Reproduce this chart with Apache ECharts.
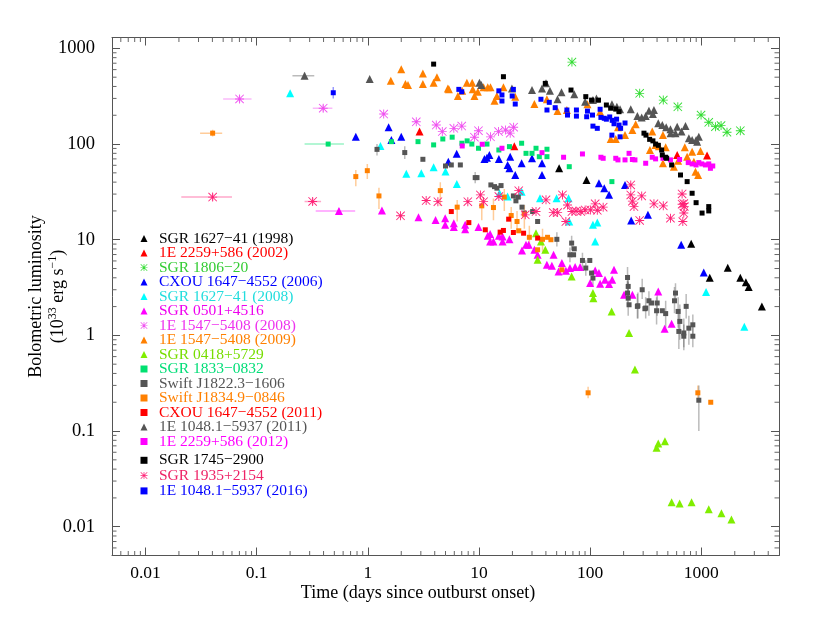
<!DOCTYPE html>
<html><head><meta charset="utf-8">
<script src="https://cdn.jsdelivr.net/npm/echarts@6/dist/echarts.min.js"></script>
<style>html,body{margin:0;padding:0;background:#fff}#c{width:814px;height:629px}</style>
</head><body><div id="c"></div>
<script>
const X_RANGE = [0.005, 5000];
const Y_RANGE = [0.005, 1300];
const xMinorTicks = [0.006,0.007,0.008,0.009,0.02,0.03,0.04,0.05,0.06,0.07,0.08,0.09,0.2,0.3,0.4,0.5,0.6,0.7,0.8,0.9,2,3,4,5,6,7,8,9,20,30,40,50,60,70,80,90,200,300,400,500,600,700,800,900,2000,3000,4000];
const yMinorTicks = [0.006,0.007,0.008,0.009,0.02,0.03,0.04,0.05,0.06,0.07,0.08,0.09,0.2,0.3,0.4,0.5,0.6,0.7,0.8,0.9,2,3,4,5,6,7,8,9,20,30,40,50,60,70,80,90,200,300,400,500,600,700,800,900];

const NAMES = ["SGR 1627−41 (1998)","1E 2259+586 (2002)","SGR 1806−20","CXOU 1647−4552 (2006)","SGR 1627−41 (2008)","SGR 0501+4516","1E 1547−5408 (2008)","1E 1547−5408 (2009)","SGR 0418+5729","SGR 1833−0832","Swift J1822.3−1606","Swift J1834.9−0846","CXOU 1647−4552 (2011)","1E 1048.1−5937 (2011)","1E 2259+586 (2012)","SGR 1745−2900","SGR 1935+2154","1E 1048.1−5937 (2016)"];

// [time (days), luminosity (1e33 erg/s)]
const sgr1627_1998 = [[52.6,56],[92.7,42],[811,9.1],[1191,4.0],[1730,5.1],[2244,4.0],[2518,3.6],[2667,3.2],[3508,2.0]];
const e2259_2002 = [[2.92,135],[20.8,95],[607,77],[1127,76]];
const sgr1806 = [[68.6,719],[279,339],[455,288],[615,245],[995,201],[1167,169],[1340,152],[1506,156],[1703,133],[2244,138]];
const cxou2006 = [[0.78,119],[1.54,150],[1.63,110],[2.0,119],[5.3,65.5],[6.3,79],[11.2,69.8],[11.8,72],[12.4,76.9],[15.1,69.8],[18.1,60.5],[19.1,73.8],[18.8,56],[21.2,47.5],[24.2,63],[30,71],[36.9,63],[36.9,47.5],[120,39],[134,34.6],[148,29.5],[206,37.4],[234,15.9],[331,18.2],[659,8.85],[1052,4.55]];
const sgr1627_2008 = [[0.2,339],[1.3,95.5],[2.22,48.8],[3.03,49.5],[3.91,57.3],[5.0,51.6],[6.32,38.3],[15.3,30.6],[18.1,28.3],[24.2,31.8],[35.4,27.2],[49.9,27.2],[64,27.2],[64.9,15.5],[106,14.3],[116,15.1],[111,9.6],[1104,2.84],[2438,1.23]];
const sgr0501 = [[0.55,20],[1.34,20.2],[2.86,17.2],[4.07,16.1],[4.97,16.8],[4.97,14.3],[5.94,14.9],[5.94,13.6],[7.52,14.3],[7.52,12.9],[9.9,13.6],[12.6,11.5],[12.6,9.6],[13.5,9.6],[12.0,11.0],[15.1,11],[16.3,10.8],[16.3,9.6],[18.8,10.1],[24.4,7.7],[26.5,8.85],[28,8.85],[31.5,7.85],[33.7,6.95],[46.9,6.95],[40.8,5.47],[45.3,5.34],[52,4.66],[55.7,5.7],[60.5,4.75],[65.8,5.06],[73.3,5.18],[81.3,5.18],[111,4.78],[120,4.48],[100,3.52],[123,3.47],[136,3.81],[158,3.81],[148,3.45],[164,4.85],[202,2.66],[240,2.66],[410,2.88],[468,1.17],[541,1.32]];
const e1547_2008 = [[0.0702,296],[0.397,237],[1.39,206],[2.73,171],[4.13,158],[4.68,135],[5.94,146],[7.0,154],[9.9,138],[9.1,118],[12.7,119],[15,135],[17.3,140],[19.1,130],[20.5,150]];
const e1547_2009 = [[1.61,459],[2.0,604],[2.18,424],[2.3,414],[3.13,548],[3.13,424],[3.91,438],[4.19,498],[5.25,382],[5.36,373],[6.46,318],[7.06,360],[7.78,438],[8.69,438],[8.79,373],[9.1,318],[9.77,352],[11,392],[12,392],[12.7,392],[13.8,284],[14.5,318],[16.6,392],[21.2,313],[31.5,262],[40.8,294],[50.9,222],[61.8,227],[94.6,260],[123,218],[178,150],[153,113],[170,113],[206,124],[240,140],[257,161],[345,86.7],[362,135],[388,98],[416,95],[452,124],[452,63],[478,92.7],[567,58],[619,67],[711,92.7],[746,73.8],[827,83],[857,65.5],[887,51.5],[936,47.5],[984,84.8]];
const sgr0418 = [[32.6,11.7],[36.1,9.6],[39.5,7.85],[33.7,6.17],[68.2,4.13],[106,2.77],[107,2.45],[156,1.78],[224,1.06],[253,0.44],[396,0.067],[410,0.074],[471,0.078],[541,0.018],[638,0.0175],[817,0.018],[1167,0.0152],[1518,0.0138],[1866,0.0119]];
const sgr1833 = [[0.44,100],[1.63,106],[2.83,106],[3.91,98],[4.73,113],[5.74,118],[7.02,102],[7.83,108],[8.63,100],[9.9,90.4],[11.8,100],[15.1,86.7],[18.8,94],[24.2,102],[26.5,80],[30,80],[32.6,90.4],[34.9,73.8],[40.9,88.3],[40.9,73.8],[64.9,58],[157,40.5]];
const swiftJ1822 = [[1.21,88],[2.15,81.5],[3.13,69.3],[5.0,59],[5.64,60.5],[6.8,60.5],[9.25,44.6],[9.6,44.6],[12.8,37.4],[13.8,35.9],[14.5,34.6],[15.8,36.8],[20.4,28.7],[22.6,27.9],[21.5,25.5],[24.4,21.9],[25.6,19],[30.4,19.7],[33.7,15.5],[50.2,10.1],[68.2,9.22],[72,8.04],[65.8,6.96],[71,6.96],[85.3,6.07],[99.3,6.07],[91.4,5.06],[106,3.97],[103,4.48],[217,4.03],[220,3.25],[217,2.77],[294,3.0],[269,2.04],[316,1.93],[220,2.45],[224,2.09],[266,2.01],[311,1.9],[338,2.3],[357,2.18],[401,2.18],[396,1.81],[446,1.81],[478,1.69],[586,2.77],[574,2.3],[619,1.78],[641,1.4],[628,1.1],[696,1.06],[696,0.98],[731,2.01],[773,1.19],[839,1.29],[839,0.98],[950,0.21]];
const swiftJ1834 = [[0.0402,130],[0.78,45.7],[0.99,52.7],[1.26,28.7],[4.49,32.6],[6.37,21.9],[10.6,22.6],[13.5,21.7],[16.9,27.9],[19.5,17.9],[22,15.5],[22.8,12.4],[25.6,18.5],[28.4,10.6],[37.3,10.1],[41.4,10.6],[44.4,10],[33.7,7.85],[55.7,4.85],[95.9,0.251],[931,0.251],[1216,0.2]];
const cxou2011 = [[5.64,19.7],[8.11,15.1],[11.4,12.7],[15.5,12],[16.6,12.5],[18.5,16.4],[20.4,11.9],[25.2,11.7],[33.7,10.4]];
const e1048_2011 = [[0.27,518],[1.04,479],[10.1,438],[10.5,414],[19.8,382],[30,367],[36.9,382],[40.1,431],[43.5,360],[50.9,294],[55.3,347],[72,331],[90.2,277],[106,288],[114,300],[157,260],[174,245],[186,231],[232,231],[266,196],[291,190],[316,196],[338,223],[375,227],[367,206],[410,165],[446,158],[483,150],[528,143],[529,130],[586,130],[607,152],[664,135],[721,154],[773,115],[827,110],[898,110],[950,119],[917,106]];
const e2259_2012 = [[7.07,95.5],[10.7,99.5],[16.1,90.4],[36.9,81.3],[57.7,72.8],[85.3,78.8],[125,72.8],[131,71],[170,71],[178,68.3],[224,80],[206,68.3],[240,69],[253,68.3],[316,63],[362,72.8],[388,70],[452,71],[528,68.3],[638,69],[763,64],[827,62],[898,60.5],[950,64],[1010,62],[1089,60.5],[1167,62],[1208,55.8],[1268,59]];
const sgr1745 = [[3.91,685],[16.6,506],[39.5,431],[67.3,367],[91.4,313],[103,288],[119,288],[140,256],[153,237],[170,232],[182,218],[305,130],[318,124],[343,112],[367,108],[388,100],[411,97],[440,86.7],[446,76.9],[478,72.8],[488,71],[541,60.5],[650,47.5],[746,40.5],[827,30.6],[898,24.4],[1016,19],[1167,22.2],[1167,20]];
const sgr1935 = [[0.0402,27.9],[0.319,25.1],[1.97,17.8],[3.35,25.7],[4.27,25],[7.94,25],[10.3,29.4],[11,25],[15.1,28.3],[22.8,32.6],[26.1,18.2],[32.6,19.7],[40.1,26.1],[46.6,19.2],[51,19.2],[56.4,29.4],[62.6,23.1],[60.5,15.5],[68.6,19.7],[74.7,20],[82.4,19.7],[90.2,20.5],[101,20.5],[111,23.7],[116,20.3],[131,21.9],[232,37.4],[232,29.4],[240,25.3],[248,22.2],[291,28.7],[279,15.9],[375,23.7],[455,22.6],[528,16.8],[672,30.1],[672,23.5],[696,23.9],[703,22.2],[696,19],[682,15.5]];
const e1048_2016 = [[0.489,344],[6.59,373],[7.0,352],[15.1,360],[16.1,326],[16.1,282],[20.4,373],[19.9,318],[21.2,262],[36.1,294],[40.9,227],[42.9,273],[48.5,240],[61.8,227],[62.6,201],[75.3,227],[75.3,196],[93.1,193],[94.6,221],[105,201],[106,154],[116,146],[123,231],[125,190],[134,186],[140,182],[150,192],[158,177],[164,163],[173,182],[182,158],[188,146],[206,166],[157,124],[186,119]];

// error bars: [x, y, xLow, xHigh, yLow, yHigh]
const errE1547_2008 = [[0.0702,296,0.05,0.09,272,322],[0.397,237,0.32,0.48,218,258]];
const errSgr1935 = [[0.0402,27.9,0.021,0.06,25.6,30.5],[0.319,25.1,0.27,0.38,23,27.5]];
const errE1048_2011 = [[0.27,518,0.21,0.33,480,560]];
const errSgr1833 = [[0.44,100,0.27,0.61,95,105]];
const errSgr0501 = [[0.55,20,0.34,0.77,18.6,21.5]];
const errE1048_2016 = [[0.489,344,0.489,0.489,300,395]];
const errJ1834 = [[0.0402,130,0.031,0.049,120,141],[0.78,45.7,0.78,0.78,36.3,53.6],[0.99,52.7,0.99,0.99,43,62],[1.26,28.7,1.26,1.26,21,35],[4.49,32.6,4.49,4.49,22.5,40],[6.37,21.9,6.37,6.37,15.5,26],[10.6,22.6,10.6,10.6,16,27],[13.5,21.7,13.5,13.5,16,27],[16.9,27.9,16.9,16.9,20,34],[19.5,17.9,19.5,19.5,13,22],[22,15.5,22,22,12,20],[25.6,18.5,25.6,25.6,13,23],[28.4,10.6,28.4,28.4,8,14],[37.3,10.1,37.3,37.3,7.5,13],[95.9,0.251,95.9,95.9,0.22,0.29],[931,0.251,931,931,0.21,0.3]];
const errJ1822 = [[1.21,88,1.21,1.21,76,100],[2.15,81.5,2.15,2.15,70,95],[9.25,44.6,9.25,9.25,39,51],[50.2,10.1,50.2,50.2,8.5,12],[68.2,9.22,68.2,68.2,7.8,11],[65.8,6.96,65.8,65.8,5.8,8.3],[85.3,6.07,85.3,85.3,5,7.3],[91.4,5.06,91.4,91.4,4.2,6.1],[106,3.97,106,106,3.3,4.8],[217,4.03,217,217,3.1,5.2],[220,3.25,220,220,2.4,4.3],[217,2.77,217,217,2.0,3.7],[294,3.0,294,294,2.4,3.9],[269,2.04,269,269,1.5,2.8],[316,1.93,316,316,1.5,2.5],[220,2.45,220,220,1.6,3.6],[266,2.01,266,266,1.5,2.7],[338,2.3,338,338,1.6,2.9],[401,2.18,401,401,1.6,2.9],[396,1.81,396,396,1.3,2.5],[478,1.69,478,478,1.2,2.3],[586,2.77,586,586,2.2,3.5],[574,2.3,574,574,1.7,3.2],[619,1.78,619,619,1.2,2.5],[641,1.4,641,641,0.9,2.1],[628,1.1,628,628,0.72,1.75],[696,1.06,696,696,0.75,1.5],[696,0.98,696,696,0.7,1.3],[731,2.01,731,731,1.5,2.7],[773,1.19,773,773,0.8,1.6],[839,1.29,839,839,1.0,1.65],[839,0.98,839,839,0.75,1.25],[950,0.21,950,950,0.1,0.3]];

const ASTER = 'path://M9 0L11 0L11 20L9 20ZM0 9L20 9L20 11L0 11ZM0 1.4L1.4 0L20 18.6L18.6 20ZM18.6 0L20 1.4L1.4 20L0 18.6Z';
const TRI = 'triangle', SQ = 'rect';

const FONT = "'Liberation Serif','DejaVu Serif',serif";
const DEFS = [
  {data: sgr1627_1998, color:'#000000', text:'#000000', sym:TRI},
  {data: e2259_2002, color:'#ff0000', text:'#ff0000', sym:TRI},
  {data: sgr1806, color:'#33dd33', text:'#33cc33', sym:ASTER},
  {data: cxou2006, color:'#0000ff', text:'#0000ff', sym:TRI},
  {data: sgr1627_2008, color:'#00ffff', text:'#22dddd', sym:TRI},
  {data: sgr0501, color:'#ff00ff', text:'#ee00ee', sym:TRI},
  {data: e1547_2008, color:'#f050f0', text:'#ee33ee', sym:ASTER},
  {data: e1547_2009, color:'#ff8000', text:'#ff8000', sym:TRI},
  {data: sgr0418, color:'#80ee00', text:'#77dd00', sym:TRI},
  {data: sgr1833, color:'#00e070', text:'#00dd77', sym:SQ},
  {data: swiftJ1822, color:'#555555', text:'#555555', sym:SQ},
  {data: swiftJ1834, color:'#ff8000', text:'#ff8000', sym:SQ},
  {data: cxou2011, color:'#ff0000', text:'#ff0000', sym:SQ},
  {data: e1048_2011, color:'#555555', text:'#555555', sym:TRI},
  {data: e2259_2012, color:'#ff00ff', text:'#ff00ff', sym:SQ},
  {data: sgr1745, color:'#000000', text:'#000000', sym:SQ},
  {data: sgr1935, color:'#ff2277', text:'#ee2266', sym:ASTER},
  {data: e1048_2016, color:'#0000ff', text:'#0000ff', sym:SQ}
];
const ERRS = [
  {data: errE1547_2008, idx:6},{data: errSgr1935, idx:16},{data: errE1048_2011, idx:13},
  {data: errSgr1833, idx:9},{data: errSgr0501, idx:5},{data: errE1048_2016, idx:17},
  {data: errJ1834, idx:11},{data: errJ1822, idx:10}
];

function sizeOf(sym){ return sym===TRI ? 8 : (sym===SQ ? 5 : 9); }

const chart = echarts.init(document.getElementById('c'), null, {renderer:'canvas'});
const series = [];
ERRS.forEach(function(e, k){
  series.push({
    type:'custom', name:'_err'+k, data:e.data, z:1, silent:true, clip:true,
    encode:{x:[0,2,3], y:[1,4,5]},
    itemStyle:{color: DEFS[e.idx].color},
    renderItem:function(params, api){
      const x=api.value(0), y=api.value(1), xl=api.value(2), xh=api.value(3), yl=api.value(4), yh=api.value(5);
      const pL=api.coord([xl,y]), pR=api.coord([xh,y]), pB=api.coord([x,yl]), pT=api.coord([x,yh]);
      const st={stroke: DEFS[e.idx].color, lineWidth:1.5, opacity:0.4};
      return {type:'group', children:[
        {type:'line', shape:{x1:pL[0],y1:pL[1],x2:pR[0],y2:pR[1]}, style:st},
        {type:'line', shape:{x1:pB[0],y1:pB[1],x2:pT[0],y2:pT[1]}, style:st}
      ]};
    }
  });
});
DEFS.forEach(function(d, i){
  series.push({
    type:'scatter', name:NAMES[i], data:d.data, symbol:d.sym, symbolSize:sizeOf(d.sym),
    itemStyle:{color:d.color, opacity:1}, z:3, silent:true
  });
});
// minor ticks on all four sides
series.push({
  type:'custom', name:'_minorX', silent:true, z:5, clip:false,
  data: xMinorTicks.map(function(v){return [v, Y_RANGE[0]];}),
  encode:{x:0, y:1},
  renderItem:function(params, api){
    const v=api.value(0);
    const b=api.coord([v, Y_RANGE[0]]), t=api.coord([v, Y_RANGE[1]]);
    const st={stroke:'#666', lineWidth:1};
    return {type:'group', children:[
      {type:'line', shape:{x1:b[0],y1:b[1],x2:b[0],y2:b[1]-4.5}, style:st},
      {type:'line', shape:{x1:t[0],y1:t[1],x2:t[0],y2:t[1]+4.5}, style:st}
    ]};
  }
});
series.push({
  type:'custom', name:'_minorY', silent:true, z:5, clip:false,
  data: yMinorTicks.map(function(v){return [X_RANGE[0], v];}),
  encode:{x:0, y:1},
  renderItem:function(params, api){
    const v=api.value(1);
    const l=api.coord([X_RANGE[0], v]), r=api.coord([X_RANGE[1], v]);
    const st={stroke:'#666', lineWidth:1};
    return {type:'group', children:[
      {type:'line', shape:{x1:l[0],y1:l[1],x2:l[0]+4.5,y2:l[1]}, style:st},
      {type:'line', shape:{x1:r[0],y1:r[1],x2:r[0]-4.5,y2:r[1]}, style:st}
    ]};
  }
});

function fmt(v){ return String(+Number(v).toPrecision(4)); }
const lineStyle = {color:'#555', width:1};
const tickStyle = {color:'#555', width:1};

const option = {
  animation:false,
  backgroundColor:'#fff',
  grid:{left:112, right:35, top:37.5, bottom:73.5, containLabel:false, outerBoundsMode:'none'},
  xAxis:[
    {type:'log', logBase:10, min:X_RANGE[0], max:X_RANGE[1], position:'bottom',
     axisLine:{show:true, onZero:false, lineStyle:lineStyle},
     axisTick:{show:true, inside:true, length:8, lineStyle:tickStyle},
     axisLabel:{show:true, showMinLabel:false, showMaxLabel:false, formatter:fmt, color:'#000', fontSize:17.5, fontFamily:FONT, margin:9},
     splitLine:{show:false}, minorTick:{show:false},
     name:'Time (days since outburst onset)', nameLocation:'middle', nameGap:29, nameMoveOverlap:false,
     nameTextStyle:{color:'#000', fontSize:18, fontFamily:FONT, padding:[0,55,0,0]}},
    {type:'log', logBase:10, min:X_RANGE[0], max:X_RANGE[1], position:'top',
     axisLine:{show:true, onZero:false, lineStyle:lineStyle},
     axisTick:{show:true, inside:true, length:8, lineStyle:tickStyle},
     axisLabel:{show:false}, splitLine:{show:false}}
  ],
  yAxis:[
    {type:'log', logBase:10, min:Y_RANGE[0], max:Y_RANGE[1], position:'left',
     axisLine:{show:true, onZero:false, lineStyle:lineStyle},
     axisTick:{show:true, inside:true, length:8, lineStyle:tickStyle},
     axisLabel:{show:true, showMinLabel:false, showMaxLabel:false, formatter:fmt, color:'#000', fontSize:18.5, fontFamily:FONT, margin:17},
     splitLine:{show:false},
     name:'Bolometric luminosity\n(10{sup|33} erg s{sup|−1})', nameLocation:'middle', nameGap:43, nameRotate:90, nameMoveOverlap:false,
     nameTextStyle:{color:'#000', fontSize:18, fontFamily:FONT, lineHeight:22, align:'center',
       rich:{sup:{fontSize:12, fontFamily:FONT, color:'#000', verticalAlign:'top', lineHeight:22}}}},
    {type:'log', logBase:10, min:Y_RANGE[0], max:Y_RANGE[1], position:'right',
     axisLine:{show:true, onZero:false, lineStyle:lineStyle},
     axisTick:{show:true, inside:true, length:8, lineStyle:tickStyle},
     axisLabel:{show:false}, splitLine:{show:false}}
  ],
  legend:[
    {orient:'vertical', left:140.5, top:230.5, padding:0, itemGap:-1.5, itemWidth:7, itemHeight:7, selectedMode:false,
     textStyle:{fontSize:15.5, fontFamily:FONT, padding:[0,0,0,6.5]},
     data: NAMES.slice(0,15).map(function(n,i){return {name:n, textStyle:{color:DEFS[i].text}};})},
    {orient:'vertical', left:140.5, top:452.3, padding:0, itemGap:-0.7, itemWidth:7, itemHeight:7, selectedMode:false,
     textStyle:{fontSize:15.5, fontFamily:FONT, padding:[0,0,0,6.5]},
     data: NAMES.slice(15).map(function(n,i){return {name:n, textStyle:{color:DEFS[i+15].text}};})}
  ],
  series: series
};
chart.setOption(option);
</script>
</body></html>
